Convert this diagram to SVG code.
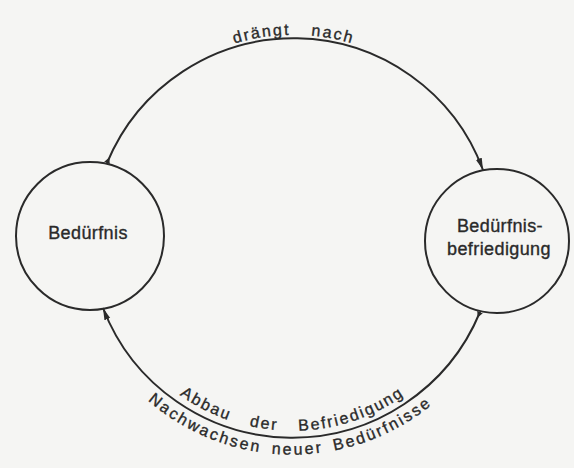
<svg xmlns="http://www.w3.org/2000/svg" width="574" height="468" viewBox="0 0 574 468">
  <style>
    .node { fill: none; stroke: #2a2a2a; stroke-width: 2; }
    .edge { fill: none; stroke: #2a2a2a; stroke-width: 2; }
    .label { font-family: "Liberation Sans", Arial, sans-serif; fill: #2a2a2a; stroke: #2a2a2a; stroke-width: 0.35px; }
    .nlabel { font-size: 18px; letter-spacing: 0.4px; text-anchor: middle; }
    .elabel { font-size: 16px; }
  </style>
  <defs>
    <marker id="arrow" viewBox="0 0 12 8" refX="12" refY="4" markerWidth="12" markerHeight="8" markerUnits="userSpaceOnUse" orient="auto">
      <path d="M0,0.9 L12,4 L0,7.1 z" fill="#2a2a2a"/>
    </marker>
    <marker id="tail" viewBox="0 0 6 6" refX="0" refY="3" markerWidth="6" markerHeight="6" markerUnits="userSpaceOnUse" orient="auto">
      <path d="M0,0 L6,3 L0,6 z" fill="#2a2a2a"/>
    </marker>
    <path id="tp-top" d="M 101 169.6 A 205 205 0 0 1 486.2 169.6"/>
    <path id="tp-inner" d="M 108.1 301.7 A 196 196 0 0 0 476.5 301.7"/>
    <path id="tp-outer" d="M 85.6 309.9 A 220 220 0 0 0 499 309.9"/>
  </defs>
  <rect x="0" y="0" width="574" height="468" fill="#f5f5f3"/>

  <g id="connectors">
    <path id="edge-draengt" class="edge" d="M 107 163 A 202 202 0 0 1 483 170" marker-start="url(#tail)" marker-end="url(#arrow)"/>
    <path id="edge-abbau" class="edge" d="M 480 312 A 203 203 0 0 1 103 308" marker-start="url(#tail)" marker-end="url(#arrow)"/>
    <text class="label elabel" text-anchor="middle" style="letter-spacing:2px; word-spacing:14px"><textPath href="#tp-top" startOffset="50%">drängt nach</textPath></text>
    <text class="label elabel" text-anchor="middle" style="letter-spacing:2px; word-spacing:14px"><textPath href="#tp-inner" startOffset="50%">Abbau der Befriedigung</textPath></text>
    <text class="label elabel" text-anchor="middle" style="letter-spacing:2.3px; word-spacing:4px"><textPath href="#tp-outer" startOffset="49.5%">Nachwachsen neuer Bedürfnisse</textPath></text>
  </g>

  <g id="node-beduerfnis">
    <circle class="node" cx="90" cy="236" r="74"/>
    <text class="label nlabel" x="88" y="239">Bedürfnis</text>
  </g>

  <g id="node-beduerfnisbefriedigung">
    <circle class="node" cx="497" cy="241" r="72"/>
    <text class="label nlabel" x="500" y="232">Bedürfnis-</text>
    <text class="label nlabel" x="499" y="255">befriedigung</text>
  </g>
</svg>
